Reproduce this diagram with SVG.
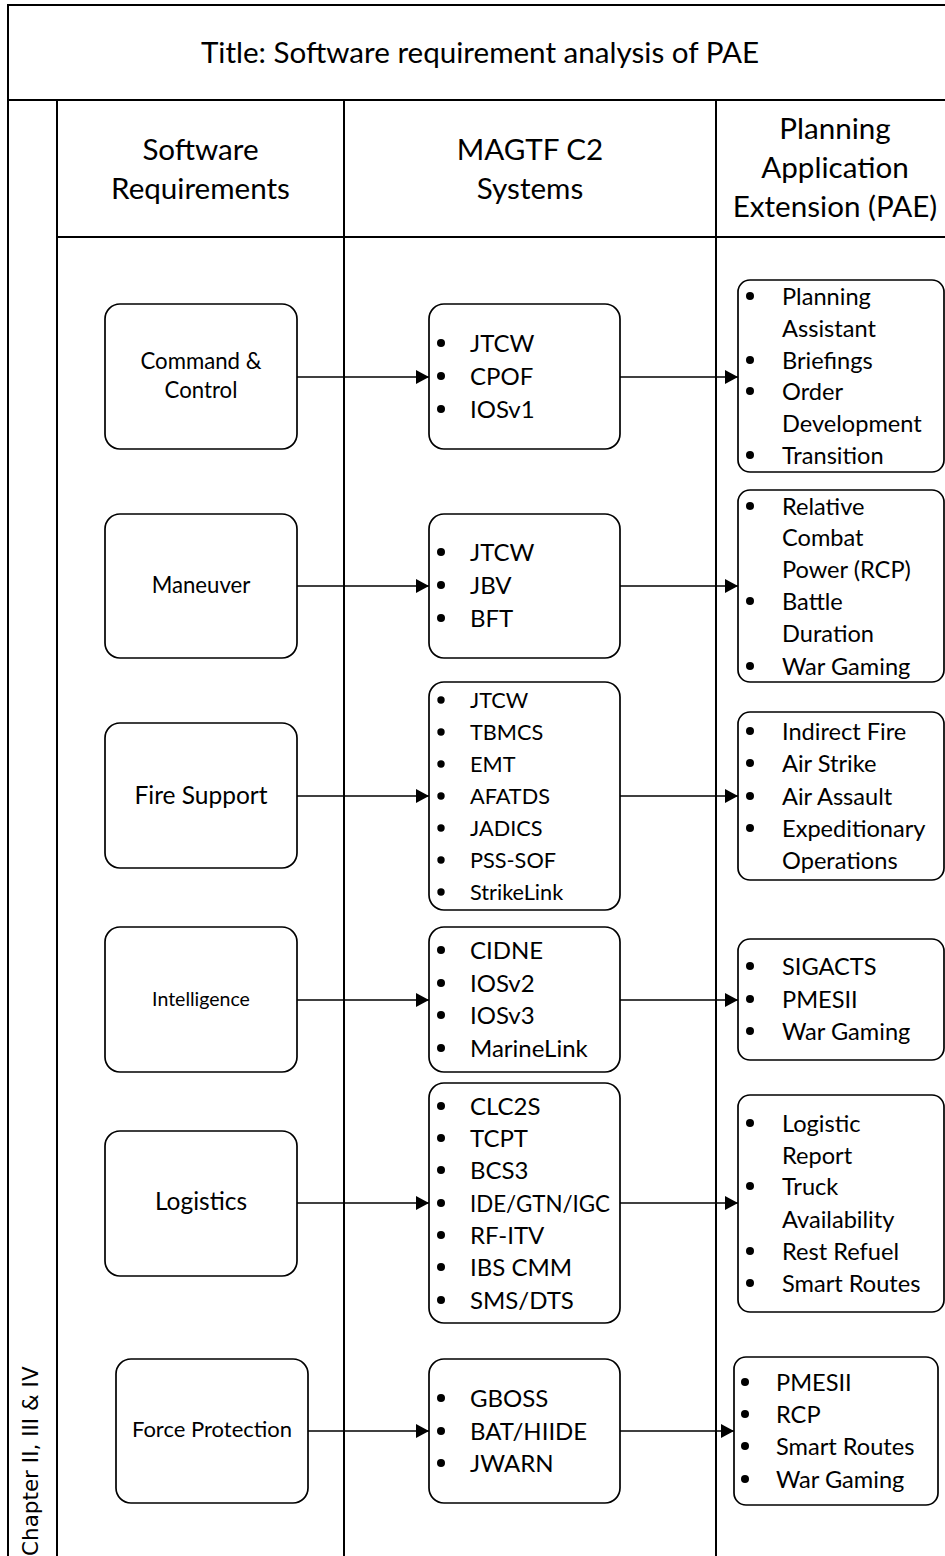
<svg xmlns="http://www.w3.org/2000/svg" width="945" height="1556" viewBox="0 0 945 1556">
<style>
.lane{stroke:#000;stroke-width:2;fill:none}
.box{fill:#fff;stroke:#000;stroke-width:1.7}
.conn{stroke:#000;stroke-width:1.3;fill:none;marker-end:url(#arr)}
.t{font-family:Lato,"Liberation Sans",sans-serif;fill:#000}
.c{text-anchor:middle}
.h{font-size:29.6px}
.l{font-size:24px}
.s{font-size:21.7px}
.p{font-size:23.6px}
.dot{fill:#000}
</style>
<defs>
<marker id="arr" markerUnits="userSpaceOnUse" markerWidth="14" markerHeight="14" refX="13" refY="7" orient="auto">
<path d="M0,0 L13,7 L0,14 z" fill="#000"/>
</marker>
</defs>
<rect width="945" height="1556" fill="#fff"/>
<g id="lanes">
<path class="lane" d="M8,1556 V5 H945 M8,100 H945 M57,100 V1556 M344,100 V1556 M716,100 V1556 M57,237 H945"/>
<text class="t c h" x="480" y="63">Title: Software requirement analysis of PAE</text>
<text class="t c h" x="200.5" y="160"><tspan x="200.5" y="160">Software</tspan><tspan x="200.5" y="199">Requirements</tspan></text>
<text class="t c h" x="530" y="160"><tspan x="530" y="160">MAGTF C2</tspan><tspan x="530" y="199">Systems</tspan></text>
<text class="t c h" x="835" y="139"><tspan x="835" y="139">Planning</tspan><tspan x="835" y="178">Application</tspan><tspan x="835" y="217">Extension (PAE)</tspan></text>
<text font-family="'DejaVu Sans',Verdana,sans-serif" font-size="21.5" transform="translate(38,1556) rotate(-90)">Chapter II, III &amp; IV</text>
</g>
<g id="connectors">
<line class="conn" x1="297" y1="377" x2="429" y2="377"/>
<line class="conn" x1="620" y1="377" x2="738" y2="377"/>
<line class="conn" x1="297" y1="586" x2="429" y2="586"/>
<line class="conn" x1="620" y1="586" x2="738" y2="586"/>
<line class="conn" x1="297" y1="796" x2="429" y2="796"/>
<line class="conn" x1="620" y1="796" x2="738" y2="796"/>
<line class="conn" x1="297" y1="1000" x2="429" y2="1000"/>
<line class="conn" x1="620" y1="1000" x2="738" y2="1000"/>
<line class="conn" x1="297" y1="1203" x2="429" y2="1203"/>
<line class="conn" x1="620" y1="1203" x2="738" y2="1203"/>
<line class="conn" x1="308" y1="1431" x2="429" y2="1431"/>
<line class="conn" x1="620" y1="1431" x2="734" y2="1431"/>
</g>
<g id="req-c2">
<rect class="box" x="105" y="304" width="192" height="145" rx="15"/>
<text class="t c" font-size="22.2" x="201" y="369"><tspan x="201" y="369">Command &amp;</tspan><tspan x="201" y="398">Control</tspan></text>
</g>
<g id="req-maneuver">
<rect class="box" x="105" y="514" width="192" height="144" rx="15"/>
<text class="t c" font-size="22.2" x="201" y="593">Maneuver</text>
</g>
<g id="req-fire">
<rect class="box" x="105" y="723" width="192" height="145" rx="15"/>
<text class="t c" font-size="24.5" x="201" y="804">Fire Support</text>
</g>
<g id="req-intel">
<rect class="box" x="105" y="927" width="192" height="145" rx="15"/>
<text class="t c" font-size="19.5" x="201" y="1006">Intelligence</text>
</g>
<g id="req-log">
<rect class="box" x="105" y="1131" width="192" height="145" rx="15"/>
<text class="t c" font-size="24.5" x="201" y="1210">Logistics</text>
</g>
<g id="req-fp">
<rect class="box" x="116" y="1359" width="192" height="144" rx="15"/>
<text class="t c" font-size="22" x="212" y="1437">Force Protection</text>
</g>
<g id="sys-c2">
<rect class="box" x="429" y="304" width="191" height="145" rx="15"/>
<circle class="dot" cx="441" cy="343" r="4"/><circle class="dot" cx="441" cy="376" r="4"/><circle class="dot" cx="441" cy="409" r="4"/>
<text class="t l"><tspan x="470" y="352">JTCW</tspan><tspan x="470" y="385">CPOF</tspan><tspan x="470" y="418">IOSv1</tspan></text>
</g>
<g id="sys-maneuver">
<rect class="box" x="429" y="514" width="191" height="144" rx="15"/>
<circle class="dot" cx="441" cy="552" r="4"/><circle class="dot" cx="441" cy="585" r="4"/><circle class="dot" cx="441" cy="618" r="4"/>
<text class="t l"><tspan x="470" y="561">JTCW</tspan><tspan x="470" y="594">JBV</tspan><tspan x="470" y="627">BFT</tspan></text>
</g>
<g id="sys-fire">
<rect class="box" x="429" y="682" width="191" height="228" rx="15"/>
<circle class="dot" cx="441" cy="700" r="3.7"/><circle class="dot" cx="441" cy="732" r="3.7"/><circle class="dot" cx="441" cy="764" r="3.7"/><circle class="dot" cx="441" cy="796" r="3.7"/><circle class="dot" cx="441" cy="828" r="3.7"/><circle class="dot" cx="441" cy="860" r="3.7"/><circle class="dot" cx="441" cy="892" r="3.7"/>
<text class="t s"><tspan x="470" y="708">JTCW</tspan><tspan x="470" y="740">TBMCS</tspan><tspan x="470" y="772">EMT</tspan><tspan x="470" y="804">AFATDS</tspan><tspan x="470" y="836">JADICS</tspan><tspan x="470" y="868">PSS-SOF</tspan><tspan x="470" y="900">StrikeLink</tspan></text>
</g>
<g id="sys-intel">
<rect class="box" x="429" y="927" width="191" height="145" rx="15"/>
<circle class="dot" cx="441" cy="950" r="4"/><circle class="dot" cx="441" cy="983" r="4"/><circle class="dot" cx="441" cy="1015" r="4"/><circle class="dot" cx="441" cy="1048" r="4"/>
<text class="t l"><tspan x="470" y="959">CIDNE</tspan><tspan x="470" y="992">IOSv2</tspan><tspan x="470" y="1024">IOSv3</tspan><tspan x="470" y="1057">MarineLink</tspan></text>
</g>
<g id="sys-log">
<rect class="box" x="429" y="1083" width="191" height="240" rx="15"/>
<circle class="dot" cx="441" cy="1106" r="4"/><circle class="dot" cx="441" cy="1138" r="4"/><circle class="dot" cx="441" cy="1170" r="4"/><circle class="dot" cx="441" cy="1203" r="4"/><circle class="dot" cx="441" cy="1235" r="4"/><circle class="dot" cx="441" cy="1267" r="4"/><circle class="dot" cx="441" cy="1300" r="4"/>
<text class="t l"><tspan x="470" y="1115">CLC2S</tspan><tspan x="470" y="1147">TCPT</tspan><tspan x="470" y="1179">BCS3</tspan></text>
<text class="t l" x="470" y="1212" textLength="140" lengthAdjust="spacingAndGlyphs">IDE/GTN/IGC</text>
<text class="t l"><tspan x="470" y="1244">RF-ITV</tspan><tspan x="470" y="1276">IBS CMM</tspan><tspan x="470" y="1309">SMS/DTS</tspan></text>
</g>
<g id="sys-fp">
<rect class="box" x="429" y="1359" width="191" height="144" rx="15"/>
<circle class="dot" cx="441" cy="1398" r="4"/><circle class="dot" cx="441" cy="1431" r="4"/><circle class="dot" cx="441" cy="1463" r="4"/>
<text class="t l"><tspan x="470" y="1407">GBOSS</tspan><tspan x="470" y="1440">BAT/HIIDE</tspan><tspan x="470" y="1472">JWARN</tspan></text>
</g>
<g id="pae-c2">
<rect class="box" x="738" y="280" width="206" height="192" rx="12"/>
<circle class="dot" cx="750" cy="296" r="4"/><circle class="dot" cx="750" cy="360" r="4"/><circle class="dot" cx="750" cy="391" r="4"/><circle class="dot" cx="750" cy="455" r="4"/>
<text class="t p"><tspan x="782" y="305">Planning</tspan><tspan x="782" y="337">Assistant</tspan><tspan x="782" y="369">Briefings</tspan><tspan x="782" y="400">Order</tspan><tspan x="782" y="432">Development</tspan><tspan x="782" y="464">Transition</tspan></text>
</g>
<g id="pae-maneuver">
<rect class="box" x="738" y="490" width="206" height="192" rx="12"/>
<circle class="dot" cx="750" cy="506" r="4"/><circle class="dot" cx="750" cy="601" r="4"/><circle class="dot" cx="750" cy="666" r="4"/>
<text class="t p"><tspan x="782" y="514.5">Relative</tspan><tspan x="782" y="546">Combat</tspan><tspan x="782" y="578">Power (RCP)</tspan><tspan x="782" y="610">Battle</tspan><tspan x="782" y="642">Duration</tspan><tspan x="782" y="675">War Gaming</tspan></text>
</g>
<g id="pae-fire">
<rect class="box" x="738" y="712" width="206" height="168" rx="12"/>
<circle class="dot" cx="750" cy="731" r="4"/><circle class="dot" cx="750" cy="763" r="4"/><circle class="dot" cx="750" cy="796" r="4"/><circle class="dot" cx="750" cy="828" r="4"/>
<text class="t p"><tspan x="782" y="740">Indirect Fire</tspan><tspan x="782" y="772">Air Strike</tspan><tspan x="782" y="804.5">Air Assault</tspan><tspan x="782" y="837">Expeditionary</tspan><tspan x="782" y="869">Operations</tspan></text>
</g>
<g id="pae-intel">
<rect class="box" x="738" y="939" width="206" height="121" rx="12"/>
<circle class="dot" cx="750" cy="966" r="4"/><circle class="dot" cx="750" cy="999" r="4"/><circle class="dot" cx="750" cy="1031" r="4"/>
<text class="t p"><tspan x="782" y="975">SIGACTS</tspan><tspan x="782" y="1008">PMESII</tspan><tspan x="782" y="1040">War Gaming</tspan></text>
</g>
<g id="pae-log">
<rect class="box" x="738" y="1095" width="206" height="217" rx="12"/>
<circle class="dot" cx="750" cy="1123" r="4"/><circle class="dot" cx="750" cy="1186" r="4"/><circle class="dot" cx="750" cy="1251" r="4"/><circle class="dot" cx="750" cy="1283" r="4"/>
<text class="t p"><tspan x="782" y="1132">Logistic</tspan><tspan x="782" y="1163.5">Report</tspan><tspan x="782" y="1195">Truck</tspan><tspan x="782" y="1227.5">Availability</tspan><tspan x="782" y="1260">Rest Refuel</tspan><tspan x="782" y="1292">Smart Routes</tspan></text>
</g>
<g id="pae-fp">
<rect class="box" x="734" y="1357" width="204" height="148" rx="12"/>
<circle class="dot" cx="745" cy="1382" r="4"/><circle class="dot" cx="745" cy="1414" r="4"/><circle class="dot" cx="745" cy="1446" r="4"/><circle class="dot" cx="745" cy="1479" r="4"/>
<text class="t p"><tspan x="776" y="1391">PMESII</tspan><tspan x="776" y="1423">RCP</tspan><tspan x="776" y="1455">Smart Routes</tspan><tspan x="776" y="1487.5">War Gaming</tspan></text>
</g>
</svg>
